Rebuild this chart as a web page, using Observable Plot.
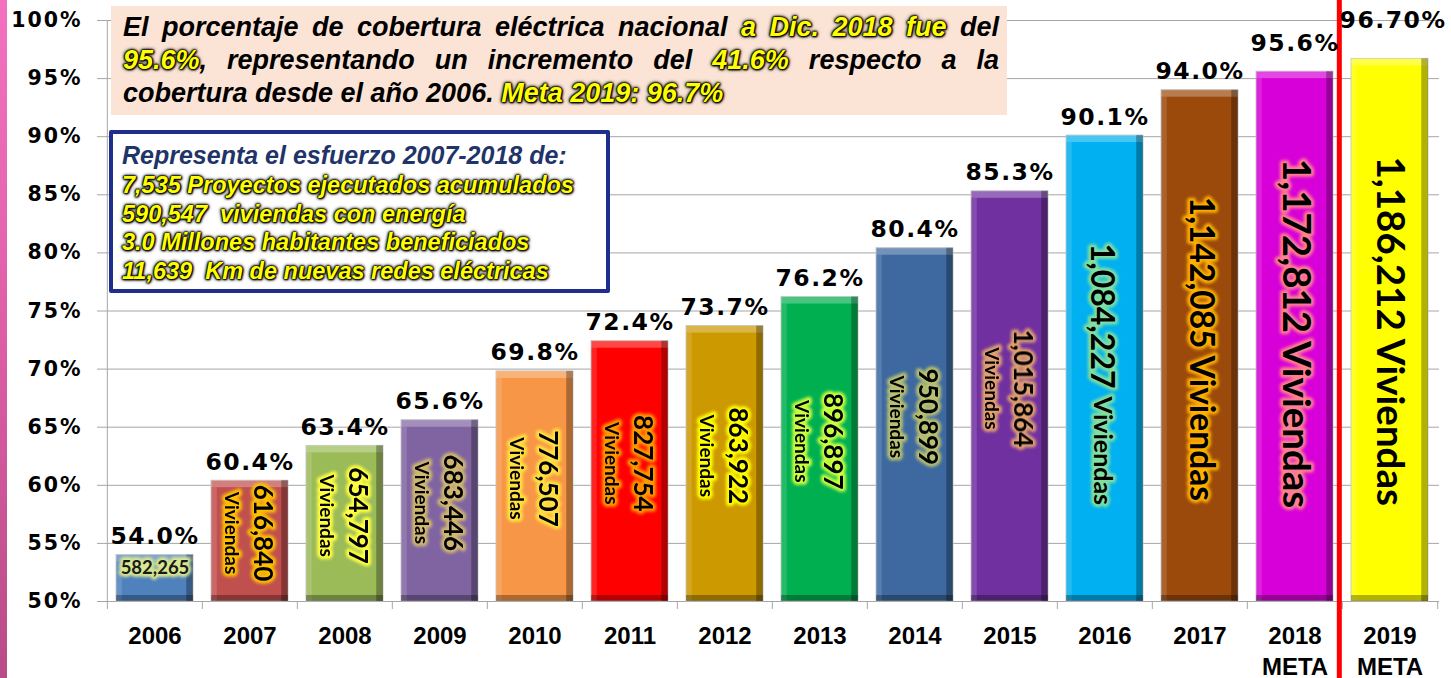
<!DOCTYPE html>
<html>
<head>
<meta charset="utf-8">
<script src="https://cdn.jsdelivr.net/npm/d3@7"></script>
<script src="https://cdn.jsdelivr.net/npm/@observablehq/plot@0.6"></script>
<style>
  html, body { margin: 0; padding: 0; background: #ffffff; }
  #wrap { position: relative; width: 1451px; height: 678px; overflow: hidden; background: #ffffff; }
  #strip { position: absolute; left: 0; top: 0; width: 7px; height: 678px;
    background: linear-gradient(180deg, #f272c0 0%, #e060a8 45%, #b84c86 100%); }
  #chart { position: absolute; left: 0; top: 0; }
  #box1 { position: absolute; left: 111px; top: 6px; width: 896px; height: 109px; box-sizing: border-box;
    background: #fbe4d5; padding: 5px 8px 0 12px;
    font-family: "Liberation Sans", Arial, sans-serif; font-style: italic; font-weight: bold;
    font-size: 27px; line-height: 33px; color: #000; }
  #box1 .j { text-align: justify; text-align-last: justify; white-space: normal; }
  #box2 { position: absolute; left: 109px; top: 130px; width: 501px; height: 163px; box-sizing: border-box;
    background: #ffffff; border: 4px solid #1f2d8c; border-radius: 2px; padding: 5px 0 0 9px;
    font-family: "Liberation Sans", Arial, sans-serif; font-style: italic; font-weight: bold; color: #000; }
  #box2 .t1 { font-size: 25px; line-height: 32px; color: #1f3468; }
  #box2 .t2 { font-size: 23.5px; line-height: 28.5px; }
  .hl { color: #ffff00; text-shadow: 0 0 1px #000, 0 0 1px #000, 0 0 2px #000, 0 0 2px #000, 0 0 3px #000, 0 0 4px #000, 1px 1px 2px #000; }
  .yax text { font-family: "DejaVu Sans", Verdana, sans-serif; font-weight: bold; letter-spacing: 2px; }
  .xax text { font-family: "Liberation Sans", Arial, sans-serif; font-weight: bold; }
  .vlab text { letter-spacing: 1.5px; }
  .glow { filter: blur(1.6px); }
</style>
</head>
<body>
<div id="wrap">
  <div id="strip"></div>
  <div id="chart"></div>
  <div id="box1">
    <div class="j">El porcentaje de cobertura eléctrica nacional <span class="hl">a Dic. 2018 fue</span> del</div>
    <div class="j"><span class="hl">95.6%</span>, representando un incremento del <span class="hl">41.6%</span> respecto a la</div>
    <div>cobertura desde el año 2006. <span class="hl">Meta 2019: 96.7%</span></div>
  </div>
  <div id="box2">
    <div class="t1">Representa el esfuerzo 2007-2018 de:</div>
    <div class="t2 hl">7,535 Proyectos ejecutados acumulados</div>
    <div class="t2 hl">590,547&nbsp; viviendas con energía</div>
    <div class="t2 hl">3.0 Millones habitantes beneficiados</div>
    <div class="t2 hl">11,639&nbsp; Km de nuevas redes eléctricas</div>
  </div>
</div>
<script>
// ---- data ----
const years = ["2006","2007","2008","2009","2010","2011","2012","2013","2014","2015","2016","2017","2018","2019"];
const coverage = [54.0, 60.4, 63.4, 65.6, 69.8, 72.4, 73.7, 76.2, 80.4, 85.3, 90.1, 94.0, 95.6, 96.7];
const coverageLabels = ["54.0%","60.4%","63.4%","65.6%","69.8%","72.4%","73.7%","76.2%","80.4%","85.3%","90.1%","94.0%","95.6%","96.70%"];
const homes = [582265, 616840, 654797, 683446, 776507, 827754, 863922, 896897, 950899, 1015864, 1084227, 1142085, 1172812, 1186212];
const homesUnit = "Viviendas";
const xTickLabels = ["2006","2007","2008","2009","2010","2011","2012","2013","2014","2015","2016","2017","2018\nMETA","2019\nMETA"];
const yTicks = [50, 55, 60, 65, 70, 75, 80, 85, 90, 95, 100];

// ---- palette (styles) ----
const barColors = ["#4f81bd","#c0504d","#9bbb59","#8064a2","#f79646","#ff0000","#cc9900","#00b050","#3d69a0","#7030a0","#00b0f0","#9c4a0c","#d800d8","#ffff00"];
const glowColors = ["#d8e890","#ffc000","#ffff40","#d0b870","#ffe040","#ff9900","#ffff00","#c8ff40","#b8c070","#e0a070","#80e0a0","#ffb000","#ff8090","#ffff00"];

const fmt = d3.format(",");
const data = years.map((year, i) => ({year, i, v: coverage[i], pct: coverageLabels[i], homes: fmt(homes[i])}));

const W = 1451, H = 678, ML = 104, MR = 12, MT = 20, MB = 77;
const step = (W - ML - MR) / years.length;
const bw = step * 0.81;
const mid = d => (50 + d.v) / 2;
const pick = (a, b) => data.filter(d => d.i >= a && d.i <= b);

function label(rows, opts, glow = true) {
  const base = {x: "year", fontFamily: "Lato", fontWeight: "bold", fill: "#000", lineAnchor: "middle", textAnchor: "middle", ...opts};
  const out = [];
  if (glow) out.push(Plot.text(rows, {...base, fill: d => glowColors[d.i], stroke: d => glowColors[d.i], strokeWidth: 6, className: "glow"}));
  out.push(Plot.text(rows, base));
  return out;
}

const plot = Plot.plot({
  width: W, height: H,
  marginLeft: ML, marginRight: MR, marginTop: MT, marginBottom: MB,
  style: {background: "transparent", overflow: "visible"},
  x: {domain: years, paddingInner: 0.19, paddingOuter: 0.095, axis: null},
  y: {domain: [50, 100], axis: null},
  color: {type: "identity"},
  marks: [
    Plot.gridY(yTicks, {stroke: "#a6a6a6", strokeOpacity: 1, insetLeft: -7}),
    // vertical axis line
    Plot.ruleX([years[0]], {x: d => d, dx: -step / 2, y1: 50, y2: 100, stroke: "#a6a6a6"}),
    // category boundary ticks
    Plot.ruleX(years, {x: d => d, dx: -step / 2, y1: 50, y2: 50, insetBottom: -8, stroke: "#a6a6a6"}),
    Plot.ruleX([years[years.length - 1]], {x: d => d, dx: step / 2, y1: 50, y2: 50, insetBottom: -8, stroke: "#a6a6a6"}),
    // bars
    Plot.barY(data, {x: "year", y1: 50, y2: "v", fill: d => barColors[d.i], stroke: "#bfbfbf", strokeWidth: 0.8}),
    // bevel effect
    Plot.barY(data, {x: "year", y1: "v", y2: "v", insetBottom: -7, fill: "#ffffff", fillOpacity: 0.28}),
    Plot.barY(data, {x: "year", y1: 50, y2: "v", insetRight: bw - 6, insetTop: 7, fill: "#ffffff", fillOpacity: 0.14}),
    Plot.barY(data, {x: "year", y1: 50, y2: "v", insetLeft: bw - 7, fill: "#000000", fillOpacity: 0.3}),
    Plot.barY(data, {x: "year", y1: 50, y2: 50, insetTop: -6, fill: "#000000", fillOpacity: 0.3}),
    // red separator before 2019 goal
    Plot.ruleX([years[13]], {x: d => d, dx: -step / 2 - 3, stroke: "#ff0000", strokeWidth: 5, insetTop: -MT, insetBottom: -MB}),
    // axes
    Plot.axisY(yTicks, {label: null, tickSize: 0, tickPadding: 22, tickFormat: d => d + "%", fontSize: 20.5, fontWeight: "bold", fill: "#000", className: "yax"}),
    Plot.axisX(years, {label: null, tickSize: 0, tickPadding: 20, tickFormat: d => xTickLabels[years.indexOf(d)], fontSize: 24, fontWeight: "bold", fill: "#000", lineHeight: 1.3, className: "xax"}),
    // value labels above bars
    Plot.text(pick(0, 11), {x: "year", y: "v", text: "pct", lineAnchor: "bottom", dy: -11, fontSize: 23.5, fontWeight: "bold", fontFamily: "DejaVu Sans", fill: "#000", className: "vlab"}),
    Plot.text(pick(12, 12), {x: "year", y: "v", text: "pct", lineAnchor: "bottom", dy: -21, fontSize: 23.5, fontWeight: "bold", fontFamily: "DejaVu Sans", fill: "#000", className: "vlab"}),
    Plot.text(pick(13, 13), {x: "year", y: "v", text: "pct", lineAnchor: "bottom", dy: -31, dx: 3, fontSize: 23.5, fontWeight: "bold", fontFamily: "DejaVu Sans", fill: "#000", className: "vlab"}),
    // inside labels
    ...label(pick(0, 0), {y: "v", text: "homes", dy: 13, fontSize: 18.5, fill: "#1a1a1a"}),
    ...label(pick(1, 9), {y: mid, text: "homes", rotate: 90, dx: 12, dy: -8, fontSize: 26}),
    ...label(pick(1, 9), {y: mid, text: () => homesUnit, rotate: 90, dx: -19, dy: -8, fontSize: 19}),
    ...label(pick(10, 10), {y: mid, text: "homes", rotate: 90, textAnchor: "end", dx: -4, dy: 20, fontSize: 32}),
    ...label(pick(10, 10), {y: mid, text: () => homesUnit, rotate: 90, textAnchor: "start", dx: -3, dy: 28, fontSize: 25}),
    ...label(pick(11, 11), {y: mid, text: d => d.homes + " " + homesUnit, rotate: 90, dx: 1, dy: 3, fontSize: 33.5}),
    ...label(pick(12, 12), {y: mid, text: d => d.homes + " " + homesUnit, rotate: 90, dx: 0, dy: -3, fontSize: 38.5}),
    ...label(pick(13, 13), {y: mid, text: d => d.homes + " " + homesUnit, rotate: 90, dx: -1, dy: 1, fontSize: 38.5}, false)
  ]
});
document.getElementById("chart").appendChild(plot);
</script>
</body>
</html>
